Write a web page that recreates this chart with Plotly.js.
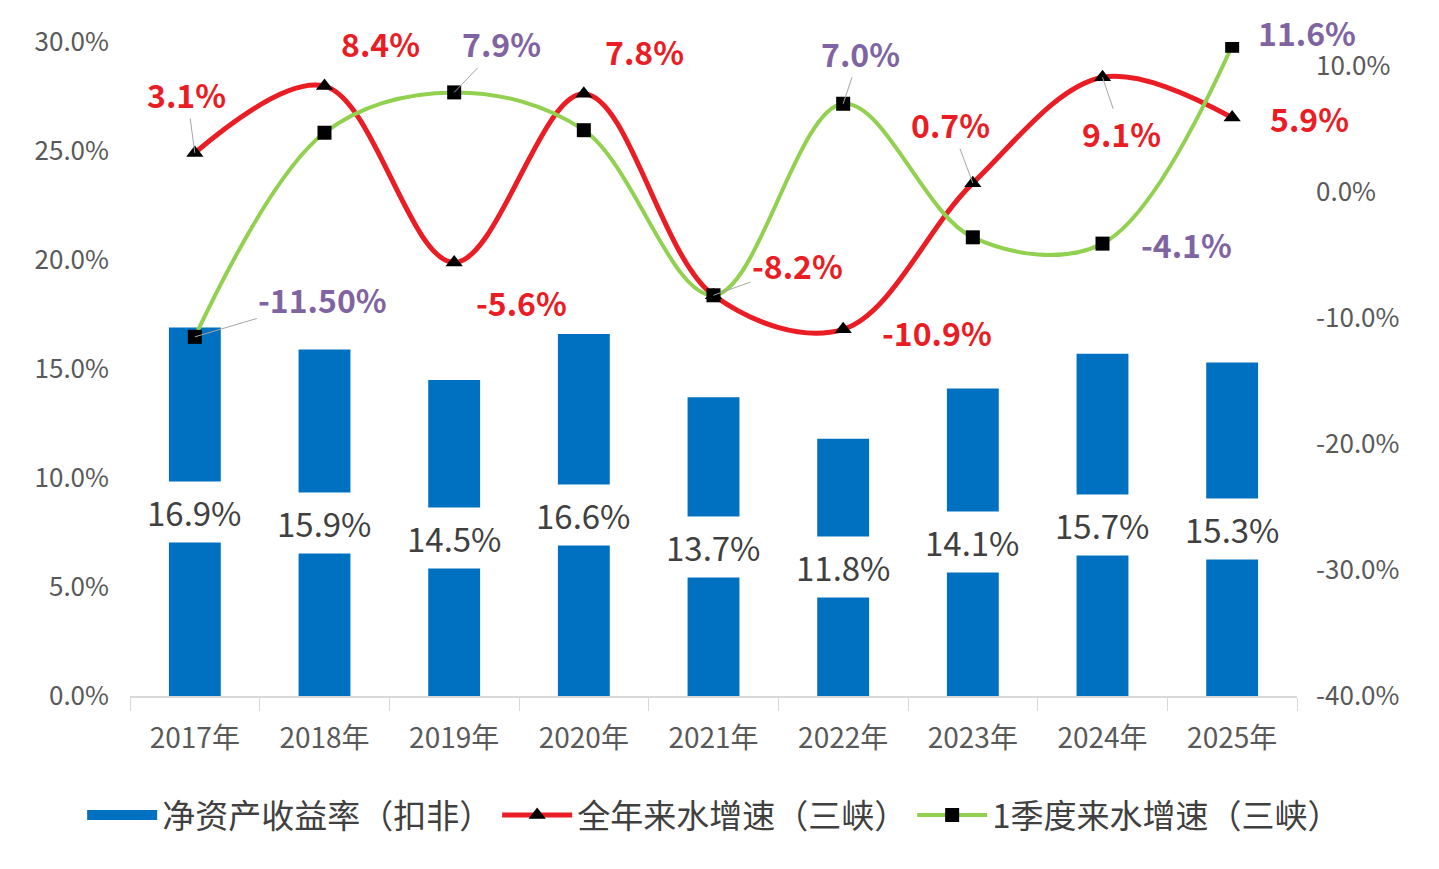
<!DOCTYPE html>
<html>
<head>
<meta charset="utf-8">
<script src="https://cdn.plot.ly/plotly-3.0.1.min.js"></script>
<style>
  html, body { margin: 0; padding: 0; background: #fff; }
  #chart { width: 1439px; height: 869px; }
</style>
</head>
<body>
<div id="chart"></div>
<script>
// categories and series (values in %)
const years = ["2017年", "2018年", "2019年", "2020年", "2021年", "2022年", "2023年", "2024年", "2025年"];
const roe = [16.9, 15.9, 14.5, 16.6, 13.7, 11.8, 14.1, 15.7, 15.3];
const fullYearFlow = [3.1, 8.4, -5.6, 7.8, -8.2, -10.9, 0.7, 9.1, 5.9];
const q1Flow = [-11.5, 4.7, 7.9, 4.9, -8.2, 7.0, -3.6, -4.1, 11.6];

// data label texts (empty = no label shown in the original)
const fullYearLabels = ["3.1%", "8.4%", "-5.6%", "7.8%", "-8.2%", "-10.9%", "0.7%", "9.1%", "5.9%"];
const q1Labels = ["-11.50%", "", "7.9%", "", "", "7.0%", "", "-4.1%", "11.6%"];

// axis ticks
const leftTicks = [0, 5, 10, 15, 20, 25, 30];
const rightTicks = [-40, -30, -20, -10, 0, 10];

// label offsets in px from the point, and whether a leader line is drawn
const fullYearOffsets = [[-8, -59, 1], [56, -43, 0], [67, 39, 0], [61, -43, 0], [84, -30, 1], [94, 3, 0], [-22, -59, 1], [19, 56, 1], [77, 0, 0]];
const q1Offsets = [[128, -38, 1], [0, 0, 0], [47, -49, 1], [0, 0, 0], [0, 0, 0], [17, -51, 1], [0, 0, 0], [84, 0, 0], [75, -14, 0]];

const RED = "#ea1c24";
const GREEN = "#92d050";
const BLUE = "#0070c0";
const PURPLE = "#8064a2";
const GREY = "#595959";
const FONT = "Noto Sans CJK SC, Noto Sans, sans-serif";

const pct = (v) => v.toFixed(1) + "%";

const traces = [
  {
    // legend entry only: wide blue swatch like the original
    type: "scatter",
    name: "净资产收益率（扣非）",
    x: [null],
    y: [null],
    mode: "lines",
    line: { color: BLUE, width: 20 },
    hoverinfo: "skip",
  },
  {
    type: "bar",
    name: "净资产收益率（扣非）",
    x: years,
    y: roe,
    yaxis: "y",
    width: 0.4,
    marker: { color: BLUE },
    showlegend: false,
    hoverinfo: "skip",
  },
  {
    type: "scatter",
    name: "全年来水增速（三峡）",
    x: years,
    y: fullYearFlow,
    yaxis: "y2",
    mode: "lines+markers",
    line: { color: RED, width: 5, shape: "spline", smoothing: 1 },
    marker: { color: "#000", size: 15, symbol: "triangle-up" },
    hoverinfo: "skip",
  },
  {
    type: "scatter",
    name: "1季度来水增速（三峡）",
    x: years,
    y: q1Flow,
    yaxis: "y2",
    mode: "lines+markers",
    line: { color: GREEN, width: 4, shape: "spline", smoothing: 1 },
    marker: { color: "#000", size: 14, symbol: "square" },
    hoverinfo: "skip",
  },
];

const annotations = [];

// bar value labels, centred in the bar on a white box
roe.forEach((v, i) => {
  annotations.push({
    x: years[i],
    y: v / 2,
    xref: "x",
    yref: "y",
    text: pct(v),
    showarrow: false,
    bgcolor: "#ffffff",
    borderpad: 6,
    font: { family: FONT, size: 33, color: "#404040" },
  });
});

const lineLabel = (vals, labels, offsets, color) => {
  vals.forEach((v, i) => {
    if (!labels[i]) return;
    const off = offsets[i];
    annotations.push({
      x: years[i],
      y: v,
      xref: "x",
      yref: "y2",
      text: "<b>" + labels[i] + "</b>",
      showarrow: true,
      arrowhead: 0,
      arrowwidth: 1,
      arrowcolor: off[2] ? "#a6a6a6" : "rgba(0,0,0,0)",
      ax: off[0],
      ay: off[1],
      font: { family: FONT, size: 32, color: color },
    });
  });
};
lineLabel(fullYearFlow, fullYearLabels, fullYearOffsets, RED);
lineLabel(q1Flow, q1Labels, q1Offsets, PURPLE);

const layout = {
  width: 1439,
  height: 869,
  margin: { l: 130, r: 142, t: 42, b: 173 },
  paper_bgcolor: "#fff",
  plot_bgcolor: "#fff",
  font: { family: FONT, color: GREY },
  showlegend: true,
  legend: {
    orientation: "h",
    x: -0.041,
    xanchor: "left",
    y: -0.182,
    yanchor: "middle",
    font: { family: FONT, size: 33, color: "#404040" },
    itemwidth: 70,
    traceorder: "normal",
  },
  xaxis: {
    type: "category",
    range: [-0.5, years.length - 0.5],
    tickson: "boundaries",
    ticks: "outside",
    ticklen: 13,
    tickcolor: "#d9d9d9",
    showline: true,
    linecolor: "#d9d9d9",
    linewidth: 1.5,
    showgrid: false,
    ticklabelstandoff: 17,
    tickfont: { family: FONT, size: 28, color: GREY },
  },
  yaxis: {
    range: [0, 30],
    tickmode: "array",
    tickvals: leftTicks,
    ticktext: leftTicks.map(pct),
    showgrid: false,
    zeroline: false,
    showline: false,
    ticklabelstandoff: 20,
    tickfont: { family: FONT, size: 26, color: GREY },
  },
  yaxis2: {
    overlaying: "y",
    side: "right",
    range: [-40, 11.9],
    tickmode: "array",
    tickvals: rightTicks,
    ticktext: rightTicks.map(pct),
    showgrid: false,
    zeroline: false,
    showline: false,
    ticklabelstandoff: 18,
    tickfont: { family: FONT, size: 26, color: GREY },
  },
  annotations: annotations,
};

Plotly.newPlot("chart", traces, layout, { displayModeBar: false, staticPlot: true });
</script>
</body>
</html>
